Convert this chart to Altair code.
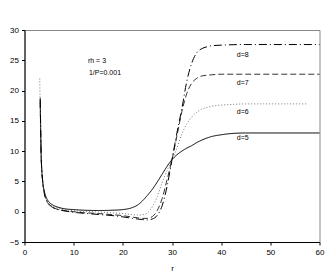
import altair as alt
import pandas as pd

r5 = [3.2, 3.4, 3.7, 4, 4.5, 5, 6, 7, 8, 10, 12, 15, 18, 20, 22, 23, 24, 25, 26, 27, 28, 29, 30, 31, 32, 33, 34, 35, 36, 38, 40, 42, 45, 50, 60]
v5 = [18.8, 9, 5, 3.5, 2.2, 1.6, 1.0, 0.7, 0.5, 0.35, 0.25, 0.2, 0.25, 0.35, 0.7, 1.1, 1.8, 2.7, 3.7, 4.9, 6.2, 7.5, 8.6, 9.4, 10.0, 10.5, 10.9, 11.4, 11.8, 12.4, 12.7, 12.9, 13.0, 13.0, 13.0]

r6 = [3.1, 3.3, 3.6, 4, 4.5, 5, 6, 7, 8, 10, 12, 15, 18, 20, 22, 23, 24, 25, 26, 27, 28, 29, 30, 31, 32, 33, 34, 35, 36, 37, 38, 40, 42, 45, 50, 57.4]
v6 = [22, 12, 6, 3.3, 1.9, 1.3, 0.8, 0.5, 0.35, 0.15, 0.05, -0.05, -0.2, -0.3, -0.5, -0.55, -0.5, -0.2, 0.8, 2.5, 4.8, 6.8, 8.6, 10.5, 12.8, 14.5, 15.6, 16.4, 16.9, 17.2, 17.4, 17.6, 17.7, 17.8, 17.8, 17.8]

r7 = [3.2, 3.4, 3.7, 4, 4.5, 5, 6, 7, 8, 10, 12, 15, 18, 20, 22, 23, 24, 25, 26, 27, 28, 29, 30, 31, 32, 33, 34, 35, 36, 38, 40, 45, 60]
v7 = [18, 9, 5, 3.2, 1.8, 1.2, 0.6, 0.35, 0.2, 0.0, -0.15, -0.3, -0.5, -0.65, -0.9, -1.0, -1.1, -1.1, -0.8, 0.2, 2.2, 5.3, 8.6, 12.5, 16.5, 19.5, 21.2, 22.0, 22.4, 22.6, 22.7, 22.7, 22.7]

r8 = [3.2, 3.4, 3.7, 4, 4.5, 5, 6, 7, 8, 10, 12, 15, 18, 20, 22, 23, 24, 25, 26, 27, 28, 29, 30, 31, 32, 33, 34, 35, 36, 37, 38, 40, 45, 60]
v8 = [18.5, 9, 5, 3.2, 1.8, 1.2, 0.6, 0.3, 0.15, -0.1, -0.25, -0.45, -0.65, -0.85, -1.1, -1.2, -1.3, -1.35, -1.2, -0.6, 1.0, 4.2, 8.6, 13.0, 17.0, 21.5, 24.5, 26.2, 26.9, 27.2, 27.4, 27.5, 27.6, 27.6]

series = [
    ("d=5", r5, v5, "#000000", [1, 0]),
    ("d=6", r6, v6, "#777777", [1, 2]),
    ("d=7", r7, v7, "#333333", [6, 3]),
    ("d=8", r8, v8, "#000000", [8, 3, 1, 3]),
]

label_text = ["d=8", "d=7", "d=6", "d=5"]
label_x = [44.4, 44.4, 44.4, 44.4]
label_y = [25.9, 21.3, 16.5, 12.2]

note_text = ["rh = 3", "1/P=0.001"]
note_x = [12.9, 13.1]
note_y = [24.8, 22.9]

x_ticks = [0, 10, 20, 30, 40, 50, 60]
y_ticks = [-5, 0, 5, 10, 15, 20, 25, 30]

xs = alt.Scale(domain=[0, 60], nice=False)
ys = alt.Scale(domain=[-5, 30], nice=False)
xa = alt.Axis(values=x_ticks, title="r", labelOverlap=False, tickCount=7)
ya = alt.Axis(values=y_ticks, title=None, labelOverlap=False, tickCount=8)

layers = []
for i, (name, rr, vv, col, dash) in enumerate(series):
    df = pd.DataFrame({"r": rr, "v": vv, "o": list(range(len(rr)))})
    layers.append(
        alt.Chart(df).mark_line(color=col, strokeWidth=1, strokeDash=dash, interpolate="monotone").encode(
            x=alt.X("r:Q", scale=xs, axis=xa),
            y=alt.Y("v:Q", scale=ys, axis=ya),
            order="o:Q",
        )
    )

ldf = pd.DataFrame({"t": label_text, "x": label_x, "y": label_y})
layers.append(
    alt.Chart(ldf).mark_text(fontSize=7, font="Liberation Sans", color="#000000").encode(
        x=alt.X("x:Q", scale=xs, axis=xa), y=alt.Y("y:Q", scale=ys, axis=ya), text="t:N"
    )
)
ndf = pd.DataFrame({"t": note_text, "x": note_x, "y": note_y})
layers.append(
    alt.Chart(ndf).mark_text(fontSize=7, font="Liberation Sans", color="#000000", align="left").encode(
        x=alt.X("x:Q", scale=xs, axis=xa), y=alt.Y("y:Q", scale=ys, axis=ya), text="t:N"
    )
)

chart = alt.layer(*layers).properties(
    width=295, height=212,
    autosize=alt.AutoSizeParams(type="none"),
    padding={"left": 16.5, "top": 22, "right": 8, "bottom": 34},
).configure_view(stroke="#888888", strokeWidth=1).configure_axis(
    domainColor="#000000", tickColor="#000000", labelFont="Liberation Sans", labelFontSize=8,
    labelColor="#000000", titleFont="Liberation Sans", titleFontSize=8, titleFontWeight="normal",
    titleColor="#000000", grid=False, tickSize=3, labelPadding=3, labelFlush=False,
).configure_axisX(titlePadding=8)

chart.save("out.html", embed_options={"renderer": "svg", "actions": False})
